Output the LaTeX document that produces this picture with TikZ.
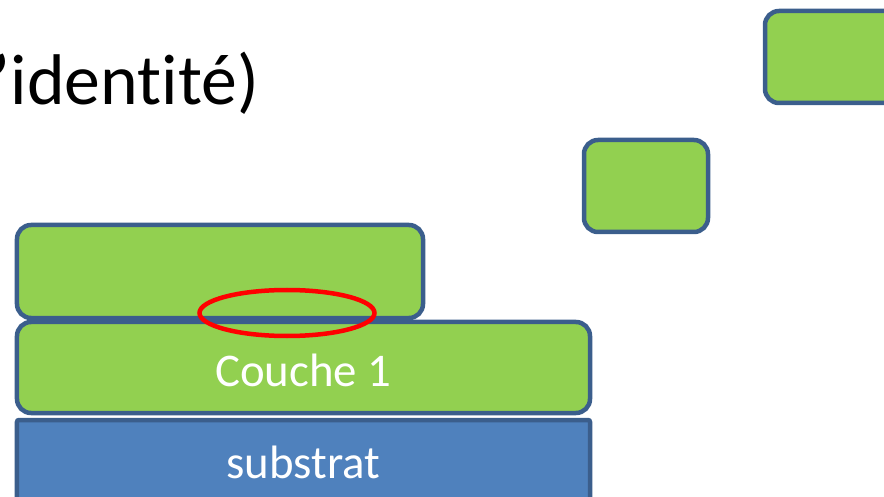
\documentclass[tikz,border=0pt]{standalone}
\usepackage{fontspec}
\setmainfont[Ligatures=NoCommon]{Carlito}
\usetikzlibrary{shapes.geometric}
\definecolor{layergreen}{HTML}{92D050}
\definecolor{layeredge}{HTML}{3B5E8C}
\definecolor{substblue}{HTML}{4F81BD}
\tikzset{
  layer/.style={draw=layeredge, line width=4.5bp, fill=layergreen, rounded corners=14bp,
    rectangle, outer sep=0pt, inner sep=0pt},
  subst/.style={draw=layeredge, line width=4.5bp, fill=substblue, rounded corners=2bp,
    rectangle, outer sep=0pt, inner sep=0pt},
  label/.style={text=white, font=\fontsize{47}{56}\selectfont, inner sep=0pt},
  ring/.style={draw=red, line width=4.5bp, ellipse, inner sep=0pt, outer sep=0pt}
}
\begin{document}
\begin{tikzpicture}[x=1bp, y=-1bp]
  \useasboundingbox (0,0) rectangle (884,497);
  % title fragment
  \node[anchor=base east, inner sep=0pt, font=\fontsize{72}{86}\selectfont] (title) at (259,105) {’identité)};
  % falling blocks
  \node[layer, minimum width=136bp, minimum height=92bp] (blockA) at (833,57) {};
  \node[layer, minimum width=124bp, minimum height=92bp] (blockB) at (646,186) {};
  % stack
  \node[subst, minimum width=573bp, minimum height=86bp] (substrat) at (303.5,463) {};
  \node[label] at (303.5,462) {substrat};
  \node[layer, minimum width=573bp, minimum height=91bp] (couche) at (303.5,367.5) {};
  \node[label] at (303.5,370) {Couche 1};
  \node[layer, minimum width=406bp, minimum height=93bp] (top) at (220,271.5) {};
  % interface highlight
  \node[ring, minimum width=175bp, minimum height=46bp] (ring) at (287,313) {};
\end{tikzpicture}
\end{document}
